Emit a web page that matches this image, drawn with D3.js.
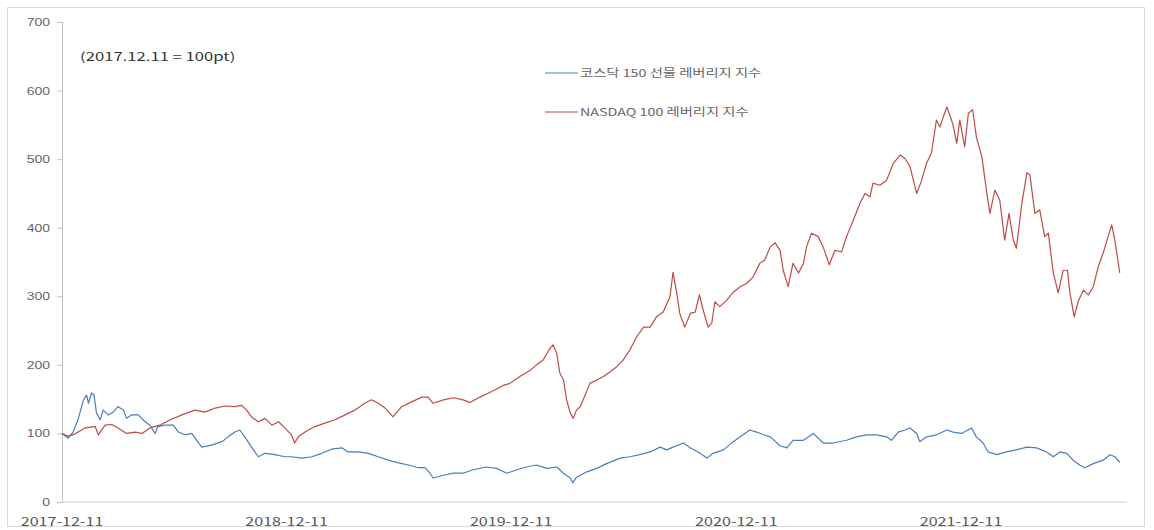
<!DOCTYPE html>
<html><head><meta charset="utf-8">
<script src="https://cdn.jsdelivr.net/npm/d3@7"></script>
<style>
body{margin:0;background:#fff;}
svg{display:block;font-family:"Noto Sans CJK KR","Noto Sans",sans-serif;}
</style>
</head><body>
<svg id="chart" width="1154" height="530"></svg>
<script>
// ---------- data ----------
const baseDate = "2017-12-11";
const xTickLabels = ["2017-12-11", "2018-12-11", "2019-12-11", "2020-12-11", "2021-12-11"];
const yTicks = [0, 100, 200, 300, 400, 500, 600, 700];
const seriesNames = ["코스닥 150 선물 레버리지 지수", "NASDAQ 100 레버리지 지수"];
const seriesColors = ["#4a7ebb", "#be4b48"];
const annotationText = "(2017.12.11 = 100pt)";

// days elapsed since baseDate, and index level (2017.12.11 = 100)
const kosdaqDays = [0,10,18,26,35,40,43,48,52,56,62,67,75,83,91,100,105,113,124,135,143,151,156,167,181,189,200,211,219,227,243,260,270,281,289,297,308,319,330,346,362,373,390,406,422,438,455,465,482,498,514,530,547,563,579,590,598,603,620,636,652,668,690,706,723,739,755,771,788,804,815,826,830,836,853,869,885,907,923,939,956,972,983,993,1010,1021,1037,1048,1058,1075,1091,1102,1118,1129,1140,1151,1167,1178,1188,1205,1221,1237,1253,1275,1291,1308,1324,1340,1348,1359,1370,1378,1389,1394,1405,1421,1438,1448,1462,1478,1486,1497,1505,1519,1535,1551,1568,1584,1600,1611,1622,1633,1643,1654,1662,1676,1692,1703,1711,1719];
const kosdaqValues = [100,93,102,120,149,156,144,159,156,130,120,134,127,131,139,134,122,127,127,117,112,100,110,112,112,102,98,100,90,80,83,88,95,102,105,95,80,66,71,69,66,66,64,66,71,77,79,73,73,71,66,61,57,54,50,50,42,35,39,42,42,47,51,49,42,47,51,54,49,51,42,35,28,36,44,49,56,64,66,69,73,80,76,80,86,79,71,64,71,76,88,95,105,102,98,95,82,79,90,90,100,86,86,90,95,98,98,95,90,102,105,108,100,88,95,98,105,102,100,108,95,86,73,69,73,76,80,79,73,66,73,71,61,54,50,56,61,69,66,58];

const nasdaqDays = [0,10,21,37,54,59,70,81,91,105,119,130,143,159,176,195,216,232,249,265,281,292,300,308,319,330,341,352,362,373,378,384,395,411,427,444,460,476,492,503,514,525,538,552,568,585,595,603,620,636,652,663,679,696,717,728,744,761,771,782,793,798,804,809,815,820,826,831,836,842,847,858,869,880,891,901,912,923,934,945,956,966,977,988,993,999,1004,1012,1021,1029,1036,1042,1050,1056,1061,1069,1080,1091,1102,1113,1123,1134,1142,1151,1159,1167,1172,1180,1188,1197,1205,1210,1218,1229,1237,1247,1256,1267,1275,1286,1297,1305,1313,1318,1329,1340,1351,1362,1370,1378,1389,1397,1405,1413,1421,1427,1432,1438,1443,1448,1454,1459,1467,1473,1480,1486,1495,1503,1508,1516,1524,1532,1539,1546,1551,1560,1568,1573,1581,1589,1597,1603,1611,1619,1627,1634,1638,1645,1652,1660,1668,1676,1684,1692,1700,1706,1711,1719];
const nasdaqValues = [100,96,99,108,110,98,112,113,108,100,102,100,108,112,120,127,134,131,137,140,139,141,134,124,117,122,112,117,108,98,86,95,102,110,115,120,127,134,144,149,144,137,124,139,146,153,153,144,149,152,149,145,153,160,170,173,183,192,200,207,224,229,217,188,178,149,130,122,134,139,149,173,178,183,190,197,207,222,241,255,255,270,277,299,335,305,275,255,275,277,302,280,255,261,292,285,294,306,314,319,328,348,353,372,378,367,338,314,348,334,348,372,392,387,372,346,367,365,387,411,436,450,445,465,462,469,494,506,501,489,450,469,494,509,557,547,561,576,564,550,523,557,518,567,572,532,503,450,421,455,440,382,421,382,370,436,480,477,421,426,387,392,334,305,338,338,305,270,294,309,302,314,343,363,387,404,382,334];

// ---------- layout ----------
const SX = 1.4; // horizontal text stretch of the original picture
const svg = d3.select("#chart");
const W = 1154, H = 530;
const plot = {left: 62, top: 22, bottom: 502, right: 1127};

const parse = d3.timeParse("%Y-%m-%d");
const base = parse(baseDate);
const x = d3.scaleTime()
  .domain([parse(xTickLabels[0]), parse(xTickLabels[4])])
  .range([62, 961]);
const y = d3.scaleLinear().domain([0, 700]).range([plot.bottom, plot.top]);

// chart frame
svg.append("rect").attr("x", 7.5).attr("y", 7.5).attr("width", 1137).attr("height", 519)
  .attr("fill", "#fff").attr("stroke", "#d9d9d9");

// y axis
const yAxis = svg.append("g").attr("transform", `translate(${plot.left},0)`)
  .call(d3.axisLeft(y).tickValues(yTicks).tickSize(5).tickPadding(0).tickFormat(d3.format("d")));
yAxis.select(".domain").attr("stroke", "#bfbfbf");
yAxis.selectAll(".tick line").attr("stroke", "#bfbfbf");
yAxis.selectAll(".tick text")
  .attr("x", null).attr("dy", "0.35em")
  .attr("transform", `translate(-12,0) scale(${SX},1)`)
  .attr("fill", "#666").style("font-size", "10px");

// x axis baseline
svg.append("line").attr("x1", plot.left).attr("x2", plot.right)
  .attr("y1", plot.bottom).attr("y2", plot.bottom).attr("stroke", "#d0d0d0");

// x tick labels
svg.append("g").selectAll("text").data(xTickLabels).join("text")
  .attr("transform", d => `translate(${x(parse(d))},${plot.bottom + 20}) scale(${SX},1)`)
  .attr("text-anchor", "middle").attr("dy", "0.35em")
  .attr("fill", "#555").style("font-size", "11.5px")
  .text(d => d);

// lines
const line = d3.line().x(d => x(d.date)).y(d => y(d.v));
const series = [
  {name: seriesNames[0], color: seriesColors[0],
   pts: kosdaqDays.map((d, i) => ({date: d3.timeDay.offset(base, d), v: kosdaqValues[i]}))},
  {name: seriesNames[1], color: seriesColors[1],
   pts: nasdaqDays.map((d, i) => ({date: d3.timeDay.offset(base, d), v: nasdaqValues[i]}))}
];
svg.append("g").selectAll("path").data(series).join("path")
  .attr("d", d => line(d.pts)).attr("fill", "none")
  .attr("stroke", d => d.color).attr("stroke-width", 1.2).attr("stroke-linejoin", "round");

// legend
const legend = svg.append("g").selectAll("g").data(series).join("g")
  .attr("transform", (d, i) => `translate(545,${73 + i * 39})`);
legend.append("line").attr("x1", 0).attr("x2", 33).attr("stroke", d => d.color).attr("stroke-width", 1.2);
legend.append("text").attr("transform", `translate(35,0) scale(1.3,1)`).attr("dy", "0.35em")
  .attr("fill", "#666").style("font-size", "11px").text(d => d.name);

// annotation
svg.append("text").attr("transform", `translate(80,57) scale(1.45,1)`).attr("dy", "0.35em")
  .attr("fill", "#333").style("font-size", "11.5px").text(annotationText);
</script>
</body></html>
